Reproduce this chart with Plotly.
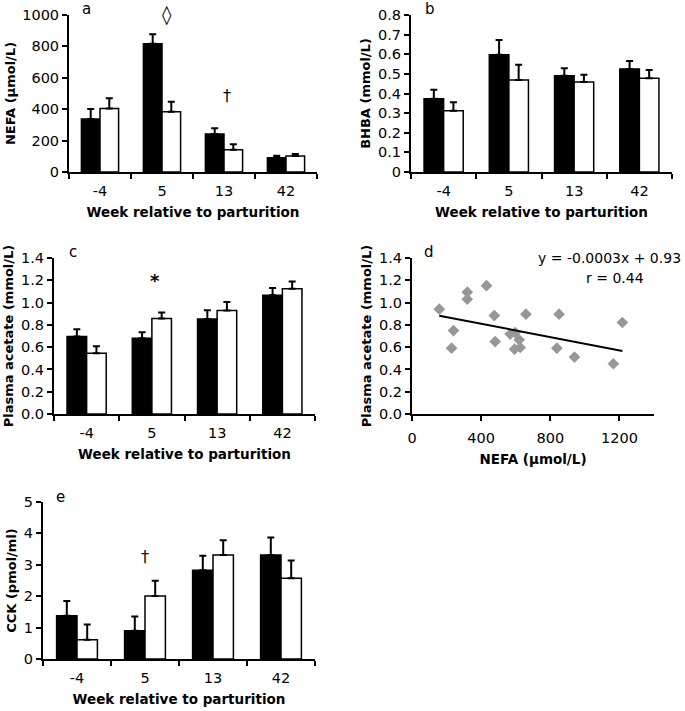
import plotly.graph_objects as go

# ---------------- data ----------------
weeks = ["-4", "5", "13", "42"]

nefa_ctrl = [338, 817, 242, 91]
nefa_ctrl_se = [63, 60, 36, 13]
nefa_trt = [405, 384, 142, 102]
nefa_trt_se = [64, 64, 34, 13]

bhba_ctrl = [0.373, 0.597, 0.490, 0.525]
bhba_ctrl_se = [0.046, 0.076, 0.039, 0.041]
bhba_trt = [0.312, 0.469, 0.458, 0.478]
bhba_trt_se = [0.044, 0.077, 0.037, 0.042]

acetate_ctrl = [0.695, 0.680, 0.853, 1.066]
acetate_ctrl_se = [0.065, 0.053, 0.077, 0.064]
acetate_trt = [0.545, 0.856, 0.928, 1.123]
acetate_trt_se = [0.063, 0.054, 0.078, 0.067]

cck_ctrl = [1.38, 0.90, 2.83, 3.31]
cck_ctrl_se = [0.47, 0.45, 0.46, 0.56]
cck_trt = [0.61, 2.01, 3.31, 2.57]
cck_trt_se = [0.49, 0.48, 0.47, 0.57]

scatter_nefa = [158, 240, 229, 320, 320, 431, 476, 481, 659, 568, 597, 620,
                593, 626, 851, 838, 940, 1217, 1165]
scatter_acetate = [0.941, 0.749, 0.591, 1.093, 1.030, 1.152, 0.883, 0.650,
                   0.896, 0.717, 0.731, 0.666, 0.582, 0.597, 0.896, 0.591,
                   0.511, 0.821, 0.451]
fit_slope = -0.0003
fit_intercept = 0.93
fit_label = "y = -0.0003x + 0.93"
r_label = "r = 0.44"

# ---------------- layout helpers ----------------
W, H = 685, 711
FONT = "DejaVu Sans"


def dx(a, b):
    return [a / W, b / W]


def dy(top, bottom):
    return [1 - bottom / H, 1 - top / H]


fig = go.Figure()


def add_bars(xa, ya, ctrl, ctrl_se, trt, trt_se):
    for vals, se, fill in ((ctrl, ctrl_se, "black"), (trt, trt_se, "white")):
        fig.add_trace(go.Bar(
            x=weeks, y=vals, xaxis=xa, yaxis=ya, showlegend=False,
            marker=dict(color=fill, line=dict(color="black", width=1.5)),
            error_y=dict(type="data", symmetric=False, array=se,
                         arrayminus=[0] * len(se), color="black",
                         thickness=2, width=3.5),
        ))


add_bars("x", "y", nefa_ctrl, nefa_ctrl_se, nefa_trt, nefa_trt_se)
add_bars("x2", "y2", bhba_ctrl, bhba_ctrl_se, bhba_trt, bhba_trt_se)
add_bars("x3", "y3", acetate_ctrl, acetate_ctrl_se, acetate_trt, acetate_trt_se)
add_bars("x5", "y5", cck_ctrl, cck_ctrl_se, cck_trt, cck_trt_se)

fig.add_trace(go.Scatter(
    x=scatter_nefa, y=scatter_acetate, mode="markers", xaxis="x4", yaxis="y4",
    showlegend=False,
    marker=dict(symbol="diamond", size=9, color="#979797"),
))
x0, x1 = min(scatter_nefa), max(scatter_nefa)
fig.add_trace(go.Scatter(
    x=[x0, x1], y=[fit_slope * x0 + fit_intercept, fit_slope * x1 + fit_intercept],
    mode="lines", xaxis="x4", yaxis="y4", showlegend=False,
    line=dict(color="black", width=2),
))

tickfont = dict(family=FONT, size=14.5, color="black")
titlefont = dict(family=FONT, size=13, color="black", weight="bold")
xtitlefont = dict(family=FONT, size=13.5, color="black", weight="bold")

base = dict(showline=True, linecolor="black", linewidth=2, ticks="outside",
            ticklen=5, tickwidth=2, tickcolor="black", showgrid=False,
            zeroline=False, tickfont=tickfont, automargin=False, fixedrange=True)


def cat_x(domain, anchor, title):
    d = dict(base)
    d.update(domain=domain, anchor=anchor, type="category", tickson="boundaries",
             range=[-0.5, 3.5], ticklabelstandoff=5,
             title=dict(text=title, font=xtitlefont, standoff=9))
    return d


def lin_y(domain, anchor, rng, dtick, title, fmt=None):
    d = dict(base)
    d.update(domain=domain, anchor=anchor, range=rng, dtick=dtick, tick0=0,
             title=dict(text=title, font=titlefont, standoff=4))
    if fmt:
        d["tickformat"] = fmt
    return d


wk = "Week relative to parturition"
layout = dict(
    width=W, height=H, margin=dict(l=0, r=0, t=0, b=0),
    paper_bgcolor="white", plot_bgcolor="white",
    bargap=0.4, bargroupgap=0, barmode="group",
    font=dict(family=FONT, color="black"),
    xaxis=cat_x(dx(69, 317), "y", wk),
    yaxis=lin_y(dy(15, 172), "x", [0, 1000], 200, "NEFA (µmol/L)"),
    xaxis2=cat_x(dx(411, 672), "y2", wk),
    yaxis2=lin_y(dy(15, 172), "x2", [0, 0.8], 0.1, "BHBA (mmol/L)"),
    xaxis3=cat_x(dx(54, 315), "y3", wk),
    yaxis3=lin_y(dy(258, 414), "x3", [0, 1.4], 0.2, "Plasma acetate (mmol/L)", ".1f"),
    yaxis4=lin_y(dy(258, 414), "x4", [0, 1.4], 0.2, "Plasma acetate (mmol/L)", ".1f"),
    xaxis5=cat_x(dx(43, 315), "y5", wk),
    yaxis5=lin_y(dy(502, 659), "x5", [0, 5], 1, "CCK (pmol/ml)"),
)
xa4 = dict(base)
xa4.update(domain=dx(412, 654), anchor="y4", range=[0, 1400], dtick=400, tick0=0,
           ticklabelstandoff=5,
           title=dict(text="NEFA (µmol/L)", font=xtitlefont, standoff=9))
layout["xaxis4"] = xa4
fig.update_layout(**layout)

# ---------------- annotations ----------------
letter_font = dict(family=FONT, size=15, color="black")
sym_font = dict(family=FONT, size=16, color="black")


def paper_note(text, px, py, font, xanchor="center"):
    fig.add_annotation(text=text, x=px / W, y=1 - py / H, xref="paper", yref="paper",
                       showarrow=False, font=font, xanchor=xanchor, yanchor="middle")


paper_note("a", 87, 9, letter_font)
paper_note("b", 430, 9, letter_font)
paper_note("c", 73, 252, letter_font)
paper_note("d", 429, 252, letter_font)
paper_note("e", 60, 497, letter_font)

fig.add_annotation(text="◊", x=1.08, y=1000, xref="x", yref="y", showarrow=False,
                   font=dict(family=FONT, size=19, color="black"))
fig.add_annotation(text="†", x=2.05, y=490, xref="x", yref="y", showarrow=False,
                   font=sym_font)
fig.add_annotation(text="<b>*</b>", x=1.05, y=1.2, xref="x3", yref="y3", showarrow=False,
                   font=dict(family=FONT, size=18, color="black"))
fig.add_annotation(text="†", x=1.0, y=3.25, xref="x5", yref="y5", showarrow=False,
                   font=sym_font)

eq_font = dict(family=FONT, size=14, color="black")
paper_note(fit_label, 683, 258, eq_font, xanchor="right")
paper_note(r_label, 615, 278, eq_font)

fig.write_html("out.html", config={"displayModeBar": False},
               post_script="document.body.style.margin='0';document.body.style.overflow='hidden';")
